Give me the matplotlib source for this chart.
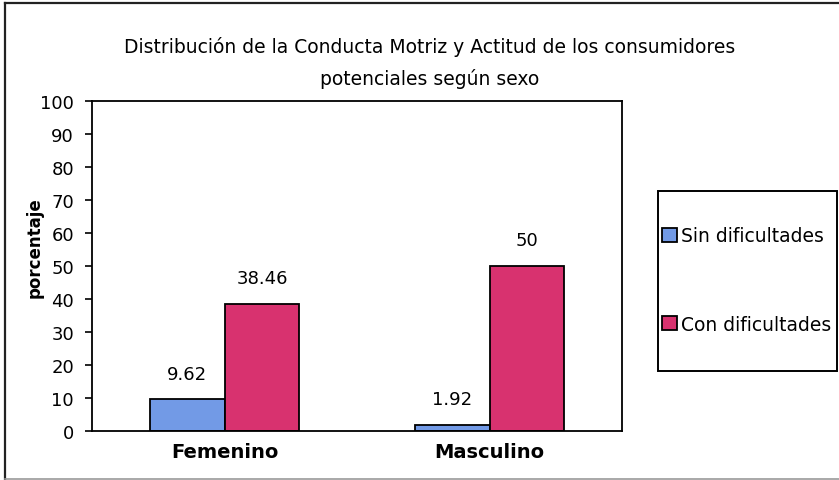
import matplotlib
matplotlib.use("Agg")
import matplotlib.pyplot as plt
from matplotlib.patches import Rectangle
from matplotlib.lines import Line2D
import numpy as np

categories = ["Femenino", "Masculino"]
series_names = ["Sin dificultades", "Con dificultades"]
sin_dificultades = [9.62, 1.92]
con_dificultades = [38.46, 50]
value_labels_sin = ["9.62", "1.92"]
value_labels_con = ["38.46", "50"]
y_ticks = list(range(0, 101, 10))

blue = "#729ae6"
pink = "#d8326f"

plt.rcParams["font.family"] = ["DejaVu Sans"]

fig = plt.figure(figsize=(8.39, 4.81), dpi=100)
W, H = 839, 481

def fx(px):
    return px / W

def fy(py):
    return 1 - py / H

# chart border (right side runs past the canvas edge)
fig.lines.append(Line2D([fx(5), fx(5)], [fy(4), fy(480)], transform=fig.transFigure,
                        color="#222222", linewidth=1.6))
fig.lines.append(Line2D([fx(5), fx(845)], [fy(4), fy(4)], transform=fig.transFigure,
                        color="#222222", linewidth=1.6))
fig.lines.append(Line2D([fx(5), fx(845)], [fy(480), fy(480)], transform=fig.transFigure,
                        color="#999999", linewidth=1.2))

ax = fig.add_axes([fx(92), fy(432), (622 - 92) / W, (432 - 102) / H])
x = np.arange(len(categories))
bw = 0.283
b1 = ax.bar(x - bw / 2, sin_dificultades, bw, color=blue, edgecolor="black", linewidth=1.3,
            label=series_names[0])
b2 = ax.bar(x + bw / 2, con_dificultades, bw, color=pink, edgecolor="black", linewidth=1.3,
            label=series_names[1])

for bars, labels in ((b1, value_labels_sin), (b2, value_labels_con)):
    for rect, lab in zip(bars, labels):
        ax.annotate(lab, (rect.get_x() + rect.get_width() / 2, rect.get_height()),
                    xytext=(0, 12), textcoords="offset points", ha="center", va="bottom",
                    fontsize=13)

ax.set_xlim(-0.5, 1.5)
ax.set_ylim(0, 100)
ax.set_yticks(y_ticks)
ax.set_yticklabels([str(t) for t in y_ticks], fontsize=13)
ax.set_xticks(x)
ax.set_xticklabels(categories, fontsize=14, fontweight="bold")
ax.tick_params(axis="x", length=0, pad=8)
ax.tick_params(axis="y", length=5, width=1.2, pad=8, direction="out")
for s in ax.spines.values():
    s.set_linewidth(1.3)
ax.set_ylabel("porcentaje", fontsize=12, fontweight="bold")
ax.yaxis.set_label_coords(-0.092, 0.558)

fig.text(fx(430), fy(47), "Distribución de la Conducta Motriz y Actitud de los consumidores",
         ha="center", va="center", fontsize=13.5)
fig.text(fx(430), fy(79), "potenciales según sexo", ha="center", va="center", fontsize=13.5)

# legend box
fig.patches.append(Rectangle((fx(658), fy(372)), (837 - 658) / W, (372 - 192) / H,
                             transform=fig.transFigure, fill=False, edgecolor="black",
                             linewidth=1.4))
fig.legend(handles=[b1, b2], labels=series_names, loc="center left",
           bbox_to_anchor=(fx(662), fy(281)), frameon=False, fontsize=13.5,
           handlelength=0.8, handleheight=0.8, handletextpad=0.2, labelspacing=3.7,
           borderaxespad=0, borderpad=0.0)

fig.savefig("out.png", dpi=100)
